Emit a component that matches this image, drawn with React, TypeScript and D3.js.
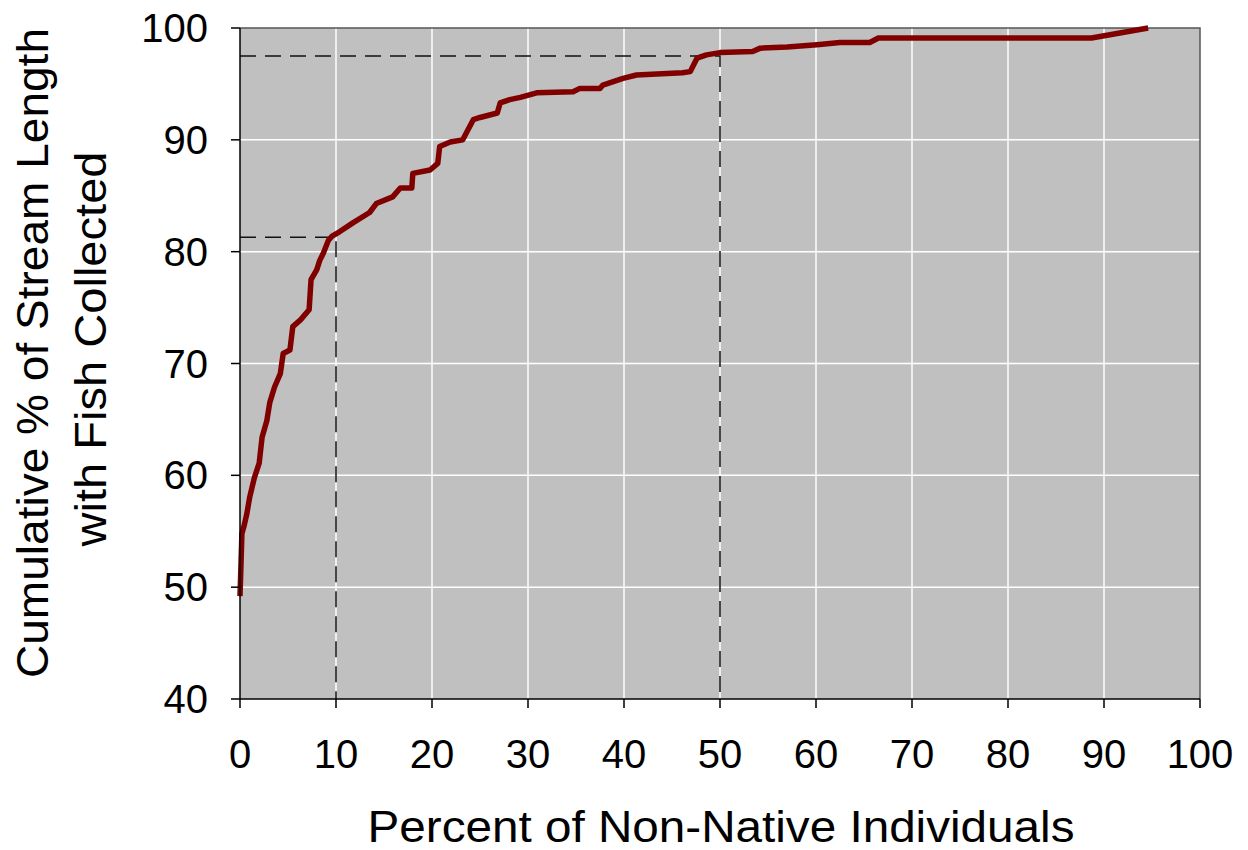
//@ts-nocheck
import * as d3 from "d3";

const pctNonNative = [
  0, 0.1, 0.2, 0.4, 0.7, 1.0, 1.5, 2.0, 2.3, 2.8, 3.1, 3.6, 4.2, 4.5, 5.2, 5.5,
  6.3, 7.2, 7.4, 8.0, 8.3, 8.7, 9.2, 9.6, 10.4, 11.8, 13.5, 14.2, 15.9, 16.7,
  17.9, 18.0, 19.8, 20.6, 20.8, 21.9, 23.2, 24.3, 25.0, 26.8, 27.1, 28.1, 29.2,
  30.9, 34.7, 35.4, 37.5, 37.8, 39.9, 41.3, 46.1, 46.9, 47.6, 48.6, 50.0, 53.4,
  54.2, 57.0, 60.1, 62.5, 65.6, 66.5, 72.9, 88.7, 94.6,
];
const cumStreamPct = [
  49.2, 52.0, 54.8, 55.4, 56.5, 58.0, 59.8, 61.1, 63.4, 64.9, 66.5, 67.9, 69.1,
  70.9, 71.2, 73.3, 73.9, 74.8, 77.5, 78.4, 79.2, 79.9, 81.0, 81.4, 81.8, 82.6,
  83.5, 84.3, 84.9, 85.7, 85.7, 87.0, 87.3, 87.9, 89.4, 89.8, 90.0, 91.8, 92.0,
  92.4, 93.3, 93.6, 93.8, 94.2, 94.3, 94.6, 94.6, 94.9, 95.5, 95.8, 96.0, 96.1,
  97.3, 97.6, 97.8, 97.9, 98.2, 98.3, 98.5, 98.7, 98.7, 99.1, 99.1, 99.1, 100,
];

// dashed guides: [x, y]
const guides = [
  [10, 81.3],
  [50, 97.5],
];

const xTicks = [0, 10, 20, 30, 40, 50, 60, 70, 80, 90, 100];
const yTicks = [40, 50, 60, 70, 80, 90, 100];

const xTitle = "Percent of Non-Native Individuals";
const yTitle = ["Cumulative % of Stream Length", "with Fish Collected"];

export default function App() {
  const width = 1248;
  const height = 850;
  const left = 240;
  const right = 1200;
  const top = 28;
  const bottom = 699;
  const font = "'Liberation Sans', Arial, sans-serif";

  const x = d3.scaleLinear([0, 100], [left, right]);
  const y = d3.scaleLinear([40, 100], [bottom, top]);
  const pts = pctNonNative.map((d, i) => [d, cumStreamPct[i]]);
  const line = d3.line((d) => x(d[0]), (d) => y(d[1]));

  return (
    <svg
      width={width}
      height={height}
      style={{ position: "absolute", left: 0, top: 0, background: "#fff" }}
      fontFamily={font}
    >
      <rect x={left} y={top} width={right - left} height={bottom - top} fill="#c0c0c0" />
      <g stroke="#fff" strokeWidth="1.5">
        {xTicks.slice(1, -1).map((t) => (
          <line key={t} x1={x(t)} x2={x(t)} y1={top} y2={bottom} />
        ))}
        {yTicks.slice(1, -1).map((t) => (
          <line key={t} x1={left} x2={right} y1={y(t)} y2={y(t)} />
        ))}
      </g>
      <path
        d={`M${left},${top}H${right}V${bottom}`}
        fill="none"
        stroke="#555"
        strokeWidth="1.5"
      />
      <g stroke="#111" strokeWidth="1.5" strokeDasharray="16,9" fill="none">
        {guides.map(([gx, gy], i) => (
          <path key={i} d={`M${x(0)},${y(gy)}H${x(gx)}V${y(40)}`} />
        ))}
      </g>
      <path
        d={line(pts)}
        fill="none"
        stroke="#800000"
        strokeWidth="5.5"
        strokeLinejoin="round"
      />
      <g stroke="#000" strokeWidth="1.5">
        <line x1={left} x2={left} y1={top} y2={bottom} />
        <line x1={left} x2={right} y1={bottom} y2={bottom} />
        {xTicks.map((t) => (
          <line key={t} x1={x(t)} x2={x(t)} y1={bottom} y2={bottom + 9} />
        ))}
        {yTicks.map((t) => (
          <line key={t} x1={left - 9} x2={left} y1={y(t)} y2={y(t)} />
        ))}
      </g>
      <g fontSize="40" fill="#000">
        {xTicks.map((t) => (
          <text key={t} x={x(t)} y={768} textAnchor="middle">
            {t}
          </text>
        ))}
        {yTicks.map((t) => (
          <text key={t} x={208} y={y(t) + 14} textAnchor="end">
            {t}
          </text>
        ))}
      </g>
      <text
        x={721}
        y={842}
        fontSize="44"
        textAnchor="middle"
        fill="#000"
        textLength={707}
        lengthAdjust="spacingAndGlyphs"
      >
        {xTitle}
      </text>
      <g transform={`translate(0,353) rotate(-90)`} fontSize="44" textAnchor="middle">
        <text x={0} y={48} textLength={650} lengthAdjust="spacingAndGlyphs">
          {yTitle[0]}
        </text>
        <text x={4} y={106} textLength={395} lengthAdjust="spacingAndGlyphs">
          {yTitle[1]}
        </text>
      </g>
    </svg>
  );
}
